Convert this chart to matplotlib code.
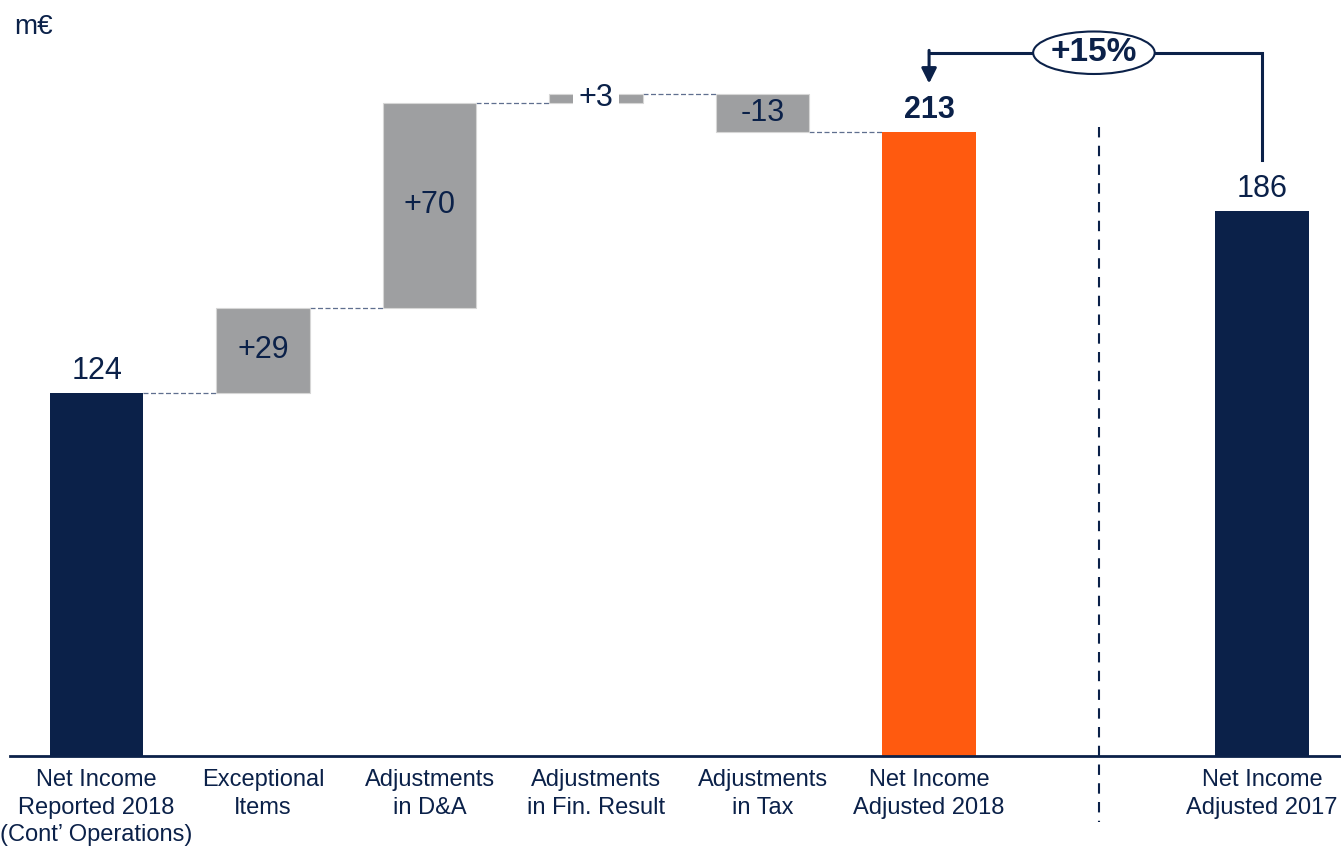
import matplotlib.pyplot as plt
from matplotlib.patches import Ellipse

plt.rcParams['font.family'] = ['Liberation Sans', 'DejaVu Sans']

NAVY = "#0b2149"
ORANGE = "#ff5a0f"
GREY = "#9e9fa1"

categories = [
    "Net Income\nReported 2018\n(Cont\u2019 Operations)",
    "Exceptional\nItems",
    "Adjustments\nin D&A",
    "Adjustments\nin Fin. Result",
    "Adjustments\nin Tax",
    "Net Income\nAdjusted 2018",
    "Net Income\nAdjusted 2017",
]
start_value = 124
deltas = [29, 70, 3, -13]
total_2018 = 213
total_2017 = 186
growth_label = "+15%"

# layout: slots 0..5 for the bridge, slot 6 is the divider, slot 7 is 2017
xs = [0, 1, 2, 3, 4, 5, 7]
width = 0.56

fig = plt.figure(figsize=(13.41, 8.49), dpi=100)
ax = fig.add_axes([0, 93 / 849, 1, 756 / 849])
ax.set_xlim(-0.58, 7.474)
ax.set_ylim(0, 258)
ax.axis("off")

# baseline
ax.axhline(0, xmin=10 / 1341, xmax=1, color=NAVY, lw=2.0, zorder=5,
           clip_on=False)

# start bar
ax.bar(xs[0], start_value, width, color=NAVY, zorder=3)
ax.annotate(str(start_value), (xs[0], start_value), xytext=(0, 5),
            textcoords="offset points", ha="center", va="bottom",
            fontsize=22, color=NAVY)

level = start_value
for i, d in enumerate(deltas, start=1):
    bottom = level if d > 0 else level + d
    ax.bar(xs[i], abs(d), width, bottom=bottom, color=GREY,
           edgecolor="#d6d6d6", lw=0.8, zorder=3)
    # connector from previous bar
    ax.plot([xs[i - 1] + width / 2, xs[i] - width / 2], [level, level],
            ls=(0, (4, 2)), color="#5f6f8f", lw=0.9, zorder=2)
    box = None
    if abs(d) < 5:
        box = dict(facecolor="white", edgecolor="none", pad=4)
    ax.text(xs[i], bottom + abs(d) / 2, f"{d:+d}", ha="center", va="center",
            fontsize=22, color=NAVY, zorder=4, bbox=box)
    level += d

# connector into the 2018 total
ax.plot([xs[4] + width / 2, xs[5] - width / 2], [level, level],
        ls=(0, (4, 2)), color="#5f6f8f", lw=0.9, zorder=2)

ax.bar(xs[5], total_2018, width, color=ORANGE, zorder=3)
ax.annotate(str(total_2018), (xs[5], total_2018), xytext=(0, 5),
            textcoords="offset points", ha="center", va="bottom",
            fontsize=22, color=NAVY, fontweight="bold")

ax.bar(xs[6], total_2017, width, color=NAVY, zorder=3)
ax.annotate(str(total_2017), (xs[6], total_2017), xytext=(0, 5),
            textcoords="offset points", ha="center", va="bottom",
            fontsize=22, color=NAVY)

# divider
ax.plot([6.02, 6.02], [214.5, -22.5], ls=(0, (5, 4)), color=NAVY,
        lw=1.5, clip_on=False, zorder=1)

# growth bracket
top_y = 240
ax.plot([xs[6], xs[6], xs[5]], [203.5, top_y, top_y], color=NAVY,
        lw=2.2, solid_joinstyle="miter", zorder=4)
ax.annotate("", xy=(xs[5], 229.5), xytext=(xs[5], top_y + 0.8),
            arrowprops=dict(arrowstyle="-|>,head_length=0.9,head_width=0.45",
                            color=NAVY, lw=2.2, shrinkA=0, shrinkB=0),
            zorder=4)
ax.add_patch(Ellipse((5.99, top_y), 0.73, 14.5, facecolor="white",
                     edgecolor=NAVY, lw=1.5, zorder=5))
ax.text(5.99, top_y, growth_label, ha="center", va="center", fontsize=24,
        fontweight="bold", color=NAVY, zorder=6)

# category labels
for x, c in zip(xs, categories):
    ax.text(x, -4.5, c, ha="center", va="top", fontsize=17, color=NAVY,
            linespacing=1.32)

fig.text(14 / 1341, 1 - 27 / 849, "m\u20ac", ha="left", va="center",
         fontsize=20, color=NAVY)

fig.savefig("out.png", dpi=100)
